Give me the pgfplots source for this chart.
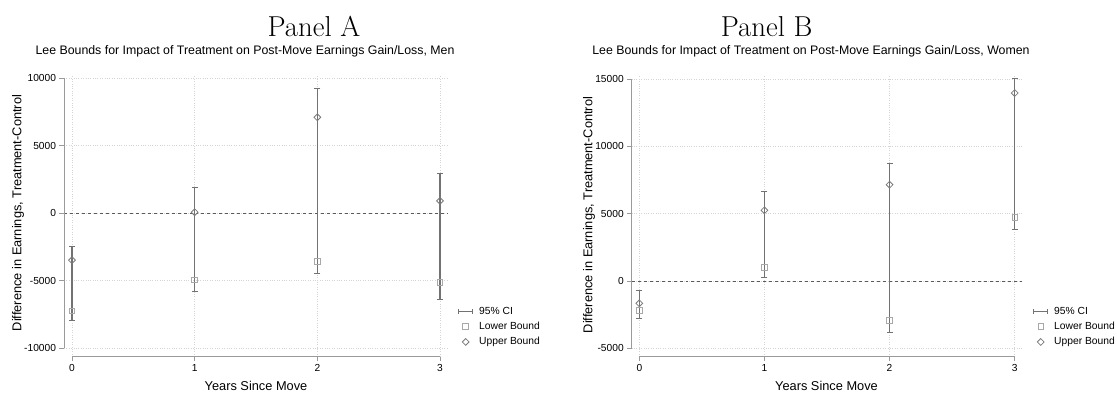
\documentclass[border=0pt]{standalone}
\usepackage{pgfplots}
\pgfplotsset{compat=1.18}
\usepackage{pgfplotstable}
\usepackage{fontspec}
\newfontfamily\arial{Liberation Sans}
\definecolor{cigray}{HTML}{727272}
\definecolor{lbgray}{HTML}{A8A8A8}
\definecolor{ubgray}{HTML}{7A7A7A}
\definecolor{axgray}{HTML}{9A9A9A}
\definecolor{gridgray}{HTML}{D4D4D4}
\definecolor{zerogray}{HTML}{5A5A5A}

% bounds (Men)
\pgfplotstableread{
x lb ub
0 -7235 -3481
1 -4938 74
2 -3580 7111
3 -5136 914
}\datA
% 95% CI (Men): lower, upper, break
\pgfplotstableread{
x y
0 -7975
0 -2469
0 nan
1 -5778
1 1877
1 nan
2 -4469
2 9259
2 nan
3 -6395
3 2963
}\ciA
% bounds (Women)
\pgfplotstableread{
x lb ub
0 -2203 -1658
1 1015 5248
2 -2946 7153
3 4703 13960
}\datB
% 95% CI (Women)
\pgfplotstableread{
x y
0 -2772
0 -693
0 nan
1 248
1 6683
1 nan
2 -3787
2 8762
2 nan
3 3837
3 15025
}\ciB

\pgfplotsset{
  statastyle/.style={
    scale only axis, height=281.5bp,
    axis x line*=bottom, axis y line*=left, axis line style={draw=none},
    tick align=outside, major tick length=4.5bp,
    tick style={axgray, line width=0.8bp},
    xtick={0,1,2,3},
    grid=major, grid style={gridgray, dotted, line width=0.7bp},
    ticklabel style={font=\arial\fontsize{10.2bp}{12bp}\selectfont, text=black},
    /pgf/number format/assume math mode=true,
    /pgf/number format/1000 sep={},
    scaled y ticks=false,
    clip=false,
    unbounded coords=jump,
    legend cell align=left,
    legend style={draw=none, fill=none, inner sep=0pt, row sep=2.5bp,
      font=\arial\fontsize{10.3bp}{12bp}\selectfont, anchor=west,
      /tikz/every odd column/.append style={column sep=4bp}},
  },
  ciplot/.style={cigray, line width=1.4bp, mark=-, mark size=3bp,
    mark options={solid, line width=0.9bp, cigray},
    legend image code/.code={
    \draw[cigray, line width=1bp] (0bp,0bp) -- (14bp,0bp);
    \draw[cigray, line width=0.8bp] (0bp,-2.5bp) -- (0bp,2.5bp) (14bp,-2.5bp) -- (14bp,2.5bp);}},
  mkimage/.style={legend image code/.code={
    \draw[mark repeat=2,mark phase=2,##1] plot coordinates {(0bp,0bp) (7bp,0bp) (14bp,0bp)};}},
  lbplot/.style={only marks, mark=square, mark size=2.8bp,
    mark options={lbgray, line width=0.8bp}, mkimage},
  ubplot/.style={only marks, mark=square, mark size=2.4bp,
    mark options={ubgray, rotate=45, line width=0.8bp}, mkimage},
}

\begin{document}
\begin{tikzpicture}
\path[use as bounding box] (0,0) rectangle (1117bp,-394bp);

% ---------- Panel A ----------
\begin{axis}[statastyle, width=384bp, at={(64bp,-356.5bp)}, anchor=south west,
  xmin=-0.065, xmax=3.065, ymin=-10620, ymax=10244,
  ytick={-10000,-5000,0,5000,10000},
  legend style={at={(axis description cs:1.026,0.106)}}]
\addplot[zerogray, dashed, line width=0.7bp, forget plot] coordinates {(-0.065,0) (3.065,0)};
\addplot[ciplot] table[x=x, y=y] {\ciA};
\addplot[lbplot] table[x=x, y=lb] {\datA};
\addplot[ubplot] table[x=x, y=ub] {\datA};
\legend{95\% CI, Lower Bound, Upper Bound}
\draw[axgray, line width=0.9bp] (axis cs:-0.065,-10000) -- (axis cs:-0.065,10000);
\draw[axgray, line width=0.9bp] (axis cs:0,-10620) -- (axis cs:3,-10620);
\end{axis}

% ---------- Panel B ----------
\begin{axis}[statastyle, width=390bp, at={(631.7bp,-356.5bp)}, anchor=south west,
  xmin=-0.061, xmax=3.056, ymin=-5609, ymax=15297,
  ytick={-5000,0,5000,10000,15000},
  legend style={at={(axis description cs:1.029,0.106)}}]
\addplot[zerogray, dashed, line width=0.7bp, forget plot] coordinates {(-0.061,0) (3.056,0)};
\addplot[ciplot] table[x=x, y=y] {\ciB};
\addplot[lbplot] table[x=x, y=lb] {\datB};
\addplot[ubplot] table[x=x, y=ub] {\datB};
\legend{95\% CI, Lower Bound, Upper Bound}
\draw[axgray, line width=0.9bp] (axis cs:-0.061,-5000) -- (axis cs:-0.061,15000);
\draw[axgray, line width=0.9bp] (axis cs:0,-5609) -- (axis cs:3,-5609);
\end{axis}

% ---------- texts ----------
\node[anchor=base, inner sep=0pt, font=\fontsize{28.8bp}{30bp}\selectfont] at (314bp,-36.7bp) {Panel A};
\node[anchor=base, inner sep=0pt, font=\fontsize{28.8bp}{30bp}\selectfont] at (766.7bp,-36.7bp) {Panel B};
\node[anchor=base, inner sep=0pt, font=\arial\fontsize{12.35bp}{14bp}\selectfont] at (245bp,-54bp)
  {Lee Bounds for Impact of Treatment on Post-Move Earnings Gain/Loss, Men};
\node[anchor=base, inner sep=0pt, font=\arial\fontsize{12.35bp}{14bp}\selectfont] at (811bp,-54bp)
  {Lee Bounds for Impact of Treatment on Post-Move Earnings Gain/Loss, Women};
\node[rotate=90, inner sep=0pt, font=\arial\fontsize{12.8bp}{14bp}\selectfont] at (18bp,-213bp)
  {Difference in Earnings, Treatment-Control};
\node[rotate=90, inner sep=0pt, font=\arial\fontsize{12.8bp}{14bp}\selectfont] at (589bp,-215bp)
  {Difference in Earnings, Treatment-Control};
\node[anchor=base, inner sep=0pt, font=\arial\fontsize{12.8bp}{14bp}\selectfont] at (256bp,-390bp)
  {Years Since Move};
\node[anchor=base, inner sep=0pt, font=\arial\fontsize{12.8bp}{14bp}\selectfont] at (826.5bp,-390bp)
  {Years Since Move};
\end{tikzpicture}
\end{document}
